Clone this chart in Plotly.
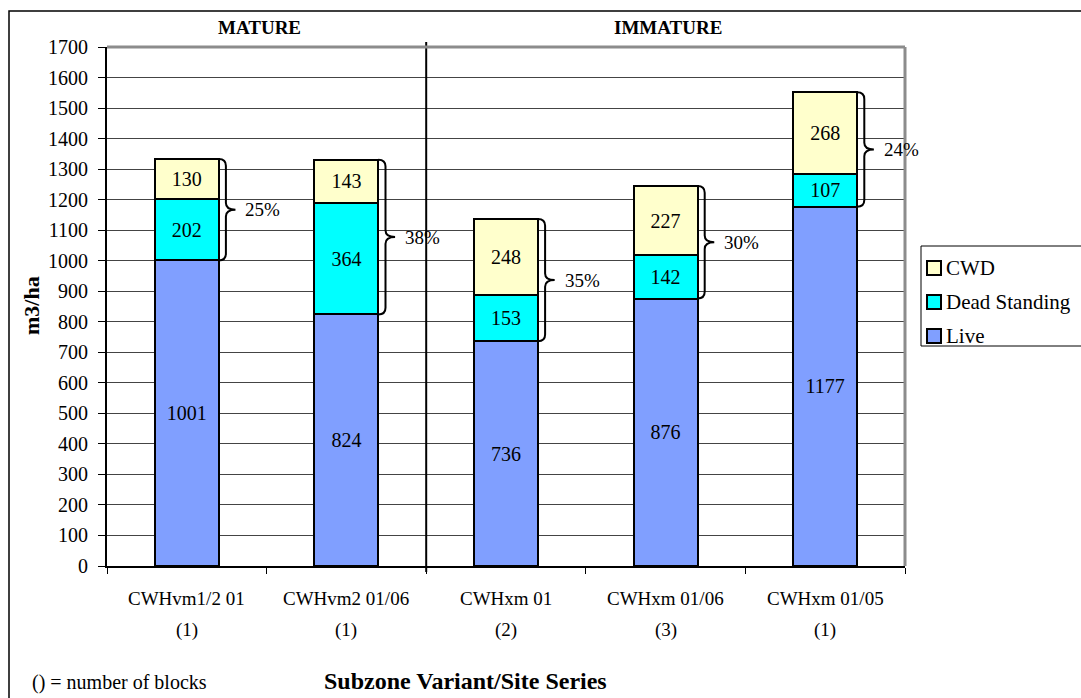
import plotly.graph_objects as go

categories = ["CWHvm1/2 01", "CWHvm2 01/06", "CWHxm 01", "CWHxm 01/06", "CWHxm 01/05"]
blocks = ["(1)", "(1)", "(2)", "(3)", "(1)"]
live = [1001, 824, 736, 876, 1177]
dead_standing = [202, 364, 153, 142, 107]
cwd = [130, 143, 248, 227, 268]
dead_pct = ["25%", "38%", "35%", "30%", "24%"]
y_ticks = list(range(0, 1701, 100))

FONT = "Liberation Serif"
x_idx = list(range(len(categories)))

# plot-area pixel geometry (for paper conversions)
L, R, T, B = 107, 905, 47, 566
def px(x):
    return (x - L) / (R - L)
def py(y):
    return (B - y) / (B - T)

fig = go.Figure()
series = [("Live", live, "#809FFF"), ("Dead Standing", dead_standing, "#00FFFF"), ("CWD", cwd, "#FFFFCC")]
for name, vals, col in series:
    fig.add_trace(go.Bar(
        x=x_idx, y=vals, name=name, width=0.4,
        marker=dict(color=col, line=dict(color="black", width=2)),
        text=[str(v) for v in vals], textposition="inside", insidetextanchor="middle",
        textangle=0, textfont=dict(family=FONT, size=20, color="black"),
        cliponaxis=False, showlegend=False,
    ))

shapes = []
annotations = []
d = 22
for i in x_idx:
    y0 = live[i]
    y1 = live[i] + dead_standing[i] + cwd[i]
    ym = (y0 + y1) / 2
    x0 = i + 0.2
    xv = i + 0.245
    xt = i + 0.305
    path = (f"M {x0},{y1} Q {xv},{y1} {xv},{y1-d} L {xv},{ym+d} Q {xv},{ym} {xt},{ym} "
            f"Q {xv},{ym} {xv},{ym-d} L {xv},{y0+d} Q {xv},{y0} {x0},{y0}")
    shapes.append(dict(type="path", path=path, xref="x", yref="y",
                       line=dict(color="black", width=2)))
    annotations.append(dict(x=xt, y=ym, xref="x", yref="y", text=dead_pct[i], showarrow=False,
                            xanchor="left", yanchor="middle", xshift=8,
                            font=dict(family=FONT, size=19, color="black")))
    annotations.append(dict(x=i, y=py(598), xref="x", yref="paper", text=categories[i], showarrow=False,
                            xanchor="center", yanchor="middle",
                            font=dict(family=FONT, size=19, color="black")))
    annotations.append(dict(x=i, y=py(630), xref="x", yref="paper", text=blocks[i], showarrow=False,
                            xanchor="center", yanchor="middle",
                            font=dict(family=FONT, size=19, color="black")))

# separator between mature and immature
shapes.append(dict(type="line", xref="x", yref="paper", x0=1.5, x1=1.5, y0=py(572), y1=py(42),
                   line=dict(color="black", width=2)))
# plot-area gray border (top and right)
shapes.append(dict(type="line", xref="paper", yref="paper", x0=0, x1=1, y0=1, y1=1,
                   line=dict(color="#8c8c8c", width=3)))
shapes.append(dict(type="line", xref="paper", yref="paper", x0=1, x1=1, y0=0, y1=1,
                   line=dict(color="#8c8c8c", width=3)))
# outer chart border
shapes.append(dict(type="rect", xref="paper", yref="paper", x0=px(9), x1=px(1100), y0=py(720), y1=py(11),
                   line=dict(color="black", width=1.5), fillcolor="rgba(0,0,0,0)", layer="below"))

# legend (custom, CWD on top)
shapes.append(dict(type="rect", xref="paper", yref="paper", x0=px(921), x1=px(1100), y0=py(346), y1=py(246),
                   line=dict(color="black", width=1), fillcolor="white"))
legend_rows = [268, 302, 336]
for (name, vals, col), ry in zip(series[::-1], legend_rows):
    shapes.append(dict(type="rect", xref="paper", yref="paper", x0=px(927), x1=px(941),
                       y0=py(ry + 7), y1=py(ry - 7), line=dict(color="black", width=2), fillcolor=col))
    annotations.append(dict(x=px(944), y=py(ry), xref="paper", yref="paper", text=name, showarrow=False,
                            xanchor="left", yanchor="middle",
                            font=dict(family=FONT, size=21, color="black")))

annotations += [
    dict(x=px(259), y=py(27), xref="paper", yref="paper", text="<b>MATURE</b>", showarrow=False,
         xanchor="center", yanchor="middle", font=dict(family=FONT, size=19, color="black")),
    dict(x=px(668), y=py(27), xref="paper", yref="paper", text="<b>IMMATURE</b>", showarrow=False,
         xanchor="center", yanchor="middle", font=dict(family=FONT, size=19, color="black")),
    dict(x=px(31), y=py(306), xref="paper", yref="paper", text="<b>m3/ha</b>", showarrow=False,
         xanchor="center", yanchor="middle",
         textangle=-90, font=dict(family=FONT, size=22, color="black")),
    dict(x=px(465), y=py(681), xref="paper", yref="paper", text="<b>Subzone Variant/Site Series</b>",
         xanchor="center", yanchor="middle",
         showarrow=False, font=dict(family=FONT, size=24, color="black")),
    dict(x=px(30), y=py(682), xref="paper", yref="paper", text="() = number of blocks", showarrow=False,
         xanchor="left", yanchor="middle", font=dict(family=FONT, size=20, color="black")),
]

fig.update_layout(
    width=1081, height=698,
    margin=dict(l=L, r=1081 - R, t=T, b=698 - B, autoexpand=False),
    paper_bgcolor="white", plot_bgcolor="white",
    barmode="stack", bargap=0.6,
    font=dict(family=FONT, color="black"),
    showlegend=False,
    xaxis=dict(range=[-0.5, 4.5], tickvals=[-0.5, 0.5, 1.5, 2.5, 3.5, 4.5], showticklabels=False,
               ticks="outside", ticklen=6, tickcolor="black", showline=True, linecolor="black",
               linewidth=2, showgrid=False, zeroline=False, fixedrange=True),
    yaxis=dict(range=[0, 1700], tickvals=y_ticks, ticks="outside", ticklen=7, tickcolor="black",
               showline=True, linecolor="black", linewidth=2, gridcolor="#444444", gridwidth=1,
               zeroline=False, ticklabelstandoff=6,
               tickfont=dict(family=FONT, size=20, color="black")),
    shapes=shapes, annotations=annotations,
)

fig.write_html("out.html", config={"displayModeBar": False},
               post_script="document.body.style.margin='0';")
